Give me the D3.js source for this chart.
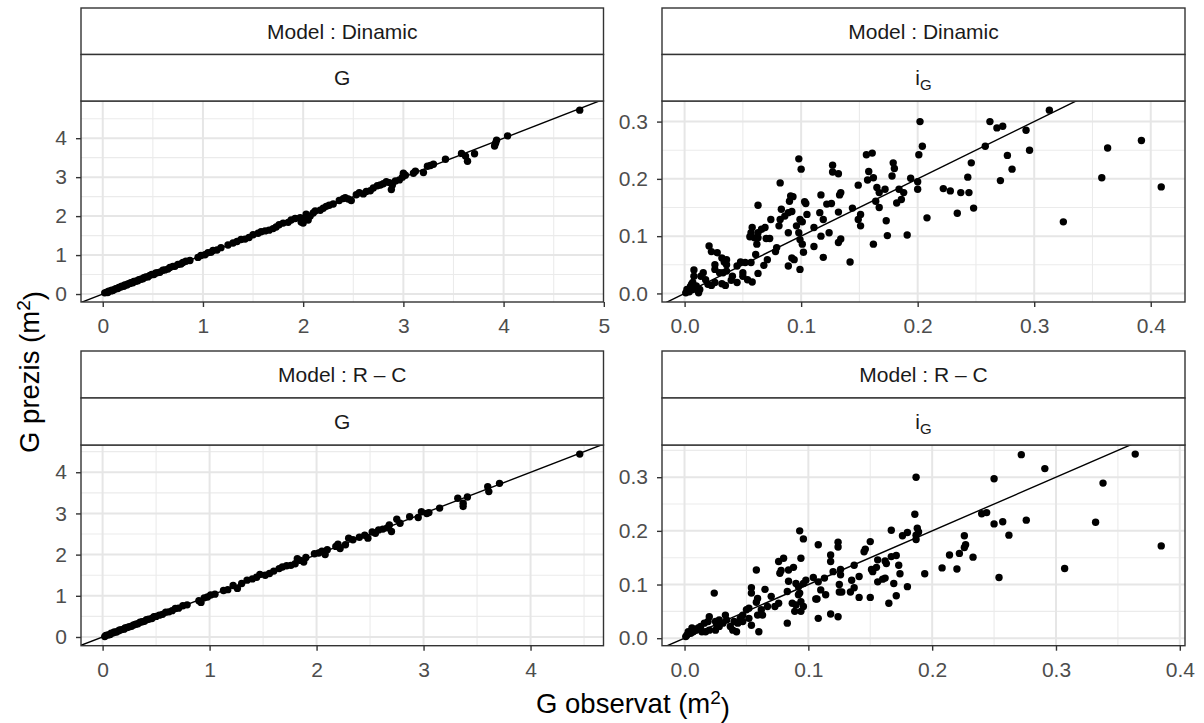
<!DOCTYPE html>
<html><head><meta charset="utf-8">
<script src="https://cdn.jsdelivr.net/npm/d3@7"></script>
<style>body{margin:0;background:#fff}</style>
</head><body><svg id="c" width="1204" height="723"></svg>
<script>
// ---------- data: [observed, predicted] ----------
const dinamicG = [[0.02,0.03],[0.04,0.05],[0.05,0.04],[0.06,0.07],[0.08,0.08],[0.09,0.10],[0.10,0.09],[0.12,0.12],[0.13,0.14],[0.15,0.14],[0.16,0.17],[0.18,0.18],[0.19,0.20],[0.21,0.20],[0.22,0.23],[0.24,0.23],[0.25,0.26],[0.27,0.27],[0.28,0.29],[0.30,0.29],[0.31,0.32],[0.33,0.33],[0.35,0.34],[0.36,0.37],[0.38,0.38],[0.40,0.39],[0.41,0.42],[0.43,0.44],[0.45,0.44],[0.47,0.48],[0.49,0.50],[0.51,0.50],[0.53,0.54],[0.55,0.55],[0.57,0.56],[0.60,0.61],[0.62,0.62],[0.65,0.64],[0.67,0.68],[0.70,0.71],[0.72,0.71],[0.75,0.76],[0.78,0.77],[0.80,0.81],[0.83,0.84],[0.87,0.86],[0.95,0.94],[0.98,0.99],[1.02,1.01],[1.05,1.06],[1.08,1.07],[1.10,1.12],[1.14,1.13],[1.18,1.19],[1.25,1.26],[1.30,1.31],[1.34,1.35],[1.38,1.40],[1.42,1.41],[1.46,1.45],[1.50,1.52],[1.55,1.56],[1.58,1.60],[1.62,1.62],[1.66,1.64],[1.70,1.68],[1.73,1.72],[1.76,1.78],[1.80,1.82],[1.85,1.84],[1.88,1.90],[1.92,1.94],[1.97,1.96],[1.98,1.85],[2.00,1.82],[2.02,1.95],[2.03,2.05],[2.05,1.90],[2.07,2.00],[2.10,2.08],[2.12,2.13],[2.17,2.15],[2.20,2.20],[2.23,2.25],[2.26,2.28],[2.30,2.31],[2.36,2.40],[2.40,2.45],[2.42,2.47],[2.45,2.44],[2.48,2.40],[2.53,2.55],[2.56,2.60],[2.60,2.57],[2.63,2.63],[2.67,2.65],[2.70,2.72],[2.74,2.78],[2.77,2.80],[2.80,2.83],[2.83,2.88],[2.86,2.86],[2.88,2.68],[2.89,2.80],[2.92,2.90],[2.96,2.93],[2.99,3.00],[3.00,3.10],[3.02,3.05],[3.10,3.10],[3.12,3.15],[3.20,3.12],[3.24,3.28],[3.27,3.30],[3.30,3.33],[3.42,3.46],[3.58,3.61],[3.62,3.54],[3.64,3.41],[3.71,3.60],[3.91,3.80],[3.92,3.87],[3.93,3.95],[4.04,4.06],[4.76,4.72]];

const dinamicIG = [[0.313,0.320],[0.202,0.300],[0.262,0.300],[0.268,0.289],[0.273,0.292],[0.293,0.285],[0.296,0.250],[0.258,0.257],[0.204,0.257],[0.201,0.242],[0.277,0.241],[0.281,0.217],[0.271,0.197],[0.246,0.228],[0.243,0.203],[0.237,0.176],[0.244,0.176],[0.222,0.183],[0.228,0.179],[0.234,0.140],[0.248,0.149],[0.208,0.132],[0.200,0.182],[0.200,0.195],[0.194,0.201],[0.325,0.125],[0.358,0.202],[0.363,0.254],[0.392,0.267],[0.409,0.186],[0.191,0.102],[0.188,0.176],[0.184,0.182],[0.186,0.164],[0.182,0.158],[0.179,0.228],[0.180,0.218],[0.178,0.205],[0.172,0.182],[0.165,0.185],[0.167,0.176],[0.161,0.245],[0.156,0.242],[0.158,0.213],[0.162,0.202],[0.157,0.198],[0.149,0.189],[0.164,0.161],[0.167,0.150],[0.173,0.127],[0.174,0.101],[0.162,0.086],[0.151,0.118],[0.149,0.129],[0.151,0.138],[0.144,0.149],[0.142,0.055],[0.134,0.095],[0.132,0.089],[0.132,0.142],[0.134,0.176],[0.133,0.172],[0.127,0.224],[0.127,0.212],[0.132,0.209],[0.126,0.157],[0.122,0.156],[0.117,0.172],[0.116,0.141],[0.124,0.106],[0.117,0.100],[0.119,0.129],[0.111,0.115],[0.111,0.082],[0.119,0.063],[0.098,0.235],[0.100,0.217],[0.103,0.160],[0.104,0.157],[0.105,0.138],[0.099,0.129],[0.101,0.125],[0.096,0.118],[0.098,0.106],[0.099,0.094],[0.101,0.086],[0.102,0.072],[0.099,0.042],[0.091,0.170],[0.093,0.169],[0.090,0.161],[0.089,0.141],[0.092,0.143],[0.086,0.135],[0.083,0.147],[0.082,0.129],[0.081,0.118],[0.082,0.193],[0.089,0.106],[0.092,0.062],[0.094,0.059],[0.089,0.048],[0.079,0.080],[0.078,0.073],[0.074,0.129],[0.073,0.096],[0.070,0.096],[0.069,0.115],[0.066,0.112],[0.063,0.106],[0.063,0.097],[0.060,0.097],[0.057,0.106],[0.056,0.099],[0.063,0.154],[0.058,0.115],[0.062,0.086],[0.061,0.068],[0.071,0.059],[0.068,0.049],[0.063,0.035],[0.058,0.020],[0.057,0.054],[0.052,0.054],[0.048,0.055],[0.050,0.036],[0.050,0.030],[0.045,0.048],[0.045,0.019],[0.036,0.059],[0.034,0.055],[0.036,0.050],[0.032,0.062],[0.028,0.071],[0.023,0.073],[0.021,0.083],[0.026,0.050],[0.026,0.042],[0.030,0.036],[0.033,0.036],[0.036,0.039],[0.035,0.014],[0.032,0.017],[0.026,0.019],[0.023,0.014],[0.020,0.016],[0.018,0.024],[0.014,0.030],[0.016,0.036],[0.008,0.041],[0.008,0.030],[0.010,0.013],[0.013,0.007],[0.012,0.001],[0.007,0.007],[0.004,0.003],[0.001,0.001],[0.002,0.007],[0.005,0.012],[0.007,0.019],[0.006,0.016],[0.040,0.023],[0.041,0.030],[0.054,0.024]];

const rcG = [[0.02,0.01],[0.03,0.04],[0.05,0.05],[0.07,0.06],[0.08,0.09],[0.10,0.10],[0.11,0.12],[0.13,0.12],[0.15,0.15],[0.16,0.17],[0.18,0.18],[0.20,0.19],[0.21,0.22],[0.23,0.23],[0.25,0.25],[0.27,0.26],[0.29,0.29],[0.31,0.31],[0.33,0.32],[0.35,0.36],[0.37,0.37],[0.39,0.38],[0.41,0.42],[0.43,0.43],[0.46,0.45],[0.48,0.49],[0.50,0.50],[0.53,0.53],[0.56,0.55],[0.59,0.60],[0.62,0.61],[0.65,0.64],[0.68,0.69],[0.71,0.70],[0.75,0.76],[0.79,0.78],[0.90,0.88],[0.92,0.84],[0.95,0.95],[0.98,0.97],[1.01,1.02],[1.05,1.04],[1.13,1.13],[1.17,1.15],[1.22,1.25],[1.26,1.18],[1.30,1.30],[1.35,1.38],[1.40,1.41],[1.44,1.45],[1.47,1.52],[1.52,1.50],[1.56,1.54],[1.60,1.60],[1.65,1.66],[1.68,1.70],[1.72,1.73],[1.76,1.74],[1.80,1.78],[1.82,1.90],[1.85,1.86],[1.88,1.82],[1.90,1.93],[1.98,2.02],[2.02,2.04],[2.05,2.08],[2.08,2.00],[2.10,2.12],[2.18,2.20],[2.20,2.25],[2.22,2.15],[2.27,2.24],[2.30,2.40],[2.34,2.36],[2.40,2.42],[2.45,2.47],[2.48,2.40],[2.52,2.55],[2.55,2.52],[2.58,2.60],[2.62,2.62],[2.66,2.65],[2.68,2.72],[2.70,2.56],[2.75,2.86],[2.78,2.76],[2.87,2.92],[2.95,2.90],[2.98,3.04],[3.03,3.00],[3.05,3.02],[3.15,3.13],[3.32,3.37],[3.37,3.25],[3.37,3.17],[3.41,3.40],[3.60,3.65],[3.61,3.53],[3.71,3.73],[4.46,4.44]];

const rcIG = [[0.272,0.342],[0.364,0.343],[0.187,0.300],[0.250,0.297],[0.291,0.316],[0.338,0.289],[0.332,0.216],[0.385,0.172],[0.307,0.130],[0.254,0.113],[0.276,0.220],[0.257,0.217],[0.250,0.213],[0.262,0.192],[0.240,0.232],[0.244,0.234],[0.226,0.191],[0.227,0.174],[0.226,0.169],[0.233,0.151],[0.222,0.158],[0.214,0.155],[0.220,0.129],[0.208,0.131],[0.194,0.120],[0.186,0.231],[0.188,0.205],[0.189,0.198],[0.187,0.192],[0.187,0.184],[0.180,0.197],[0.176,0.191],[0.167,0.201],[0.171,0.154],[0.167,0.152],[0.163,0.139],[0.162,0.144],[0.173,0.136],[0.174,0.120],[0.169,0.102],[0.171,0.079],[0.165,0.065],[0.180,0.096],[0.156,0.146],[0.155,0.132],[0.151,0.128],[0.152,0.124],[0.156,0.105],[0.160,0.110],[0.162,0.112],[0.150,0.180],[0.146,0.166],[0.145,0.161],[0.150,0.076],[0.141,0.076],[0.137,0.094],[0.135,0.108],[0.141,0.115],[0.137,0.136],[0.134,0.086],[0.125,0.086],[0.127,0.086],[0.125,0.100],[0.126,0.118],[0.126,0.128],[0.120,0.124],[0.124,0.179],[0.124,0.170],[0.118,0.155],[0.118,0.143],[0.118,0.045],[0.124,0.040],[0.113,0.112],[0.108,0.174],[0.108,0.105],[0.110,0.090],[0.114,0.081],[0.107,0.073],[0.106,0.073],[0.108,0.037],[0.104,0.113],[0.096,0.185],[0.093,0.200],[0.094,0.149],[0.098,0.108],[0.096,0.102],[0.092,0.096],[0.090,0.102],[0.093,0.084],[0.092,0.081],[0.094,0.068],[0.096,0.059],[0.094,0.050],[0.089,0.050],[0.090,0.062],[0.087,0.065],[0.084,0.106],[0.083,0.087],[0.088,0.132],[0.084,0.127],[0.078,0.126],[0.077,0.121],[0.080,0.149],[0.076,0.143],[0.083,0.028],[0.076,0.065],[0.073,0.059],[0.070,0.078],[0.065,0.091],[0.067,0.059],[0.062,0.053],[0.063,0.043],[0.059,0.043],[0.058,0.127],[0.059,0.074],[0.058,0.067],[0.054,0.084],[0.054,0.094],[0.052,0.056],[0.050,0.053],[0.047,0.043],[0.060,0.012],[0.054,0.024],[0.052,0.037],[0.047,0.031],[0.043,0.028],[0.040,0.031],[0.024,0.084],[0.033,0.043],[0.034,0.034],[0.031,0.028],[0.028,0.022],[0.025,0.015],[0.020,0.040],[0.019,0.031],[0.016,0.028],[0.013,0.022],[0.025,0.031],[0.028,0.034],[0.026,0.025],[0.037,0.022],[0.042,0.012],[0.039,0.015],[0.009,0.015],[0.007,0.012],[0.005,0.009],[0.002,0.006],[0.001,0.003],[0.003,0.012],[0.006,0.019],[0.011,0.019],[0.014,0.012],[0.017,0.012],[0.020,0.015],[0.045,0.037]];

const modelLabels = ["Model : Dinamic", "Model : R \u2013 C"];
const variableLabels = ["G", "iG"];
const ticksG5 = [0, 1, 2, 3, 4, 5];
const ticksG4 = [0, 1, 2, 3, 4];
const ticksI4 = [0, 0.1, 0.2, 0.3, 0.4];
const ticksI3 = [0, 0.1, 0.2, 0.3];
const xTitle = "G observat (m";
const yTitle = "G prezis (m";

// ---------- layout ----------
const FONT = "'Liberation Sans', Arial, sans-serif";
const cols = [{x0: 81, x1: 603.5}, {x0: 662, x1: 1185}];
const rows = [{top: 8, strip: 46.5, py0: 101, py1: 302}, {top: 351, strip: 47, py0: 445, py1: 645.7}];

const panels = [
  {r: 0, c: 0, data: dinamicG, model: 0, v: 0, xt: ticksG5, yt: ticksG4, fmt: d3.format("d")},
  {r: 0, c: 1, data: dinamicIG, model: 0, v: 1, xt: ticksI4, yt: ticksI3, fmt: d3.format(".1f")},
  {r: 1, c: 0, data: rcG, model: 1, v: 0, xt: ticksG4, yt: ticksG4, fmt: d3.format("d")},
  {r: 1, c: 1, data: rcIG, model: 1, v: 1, xt: ticksI4, yt: ticksI3, fmt: d3.format(".1f")}
];

const svg = d3.select("#c").style("font-family", FONT);
svg.append("rect").attr("width", 1204).attr("height", 723).attr("fill", "#fff");

function expand(ext) { const r = ext[1] - ext[0]; return [ext[0] - 0.05 * r, ext[1] + 0.05 * r]; }
function minorOf(t, dom) {
  const s = t[1] - t[0], out = [];
  for (let v = t[0] - s; v <= t[t.length - 1] + s; v += s) {
    const m = v + s / 2;
    if (m >= dom[0] && m <= dom[1]) out.push(m);
  }
  return out;
}

panels.forEach((p, i) => {
  const col = cols[p.c], row = rows[p.r];
  const xd = expand(d3.extent(p.data, d => d[0]));
  const yd = expand(d3.extent(p.data, d => d[1]));
  const x = d3.scaleLinear().domain(xd).range([col.x0, col.x1]);
  const y = d3.scaleLinear().domain(yd).range([row.py1, row.py0]);
  const g = svg.append("g");

  g.append("rect").attr("x", col.x0).attr("y", row.py0).attr("width", col.x1 - col.x0).attr("height", row.py1 - row.py0).attr("fill", "#fff");

  // minor grid
  const xm = minorOf(p.xt, xd), ym = minorOf(p.yt, yd);
  g.selectAll(null).data(xm).enter().append("line")
    .attr("x1", d => x(d)).attr("x2", d => x(d)).attr("y1", row.py0).attr("y2", row.py1)
    .attr("stroke", "#EBEBEB").attr("stroke-width", 1.1);
  g.selectAll(null).data(ym).enter().append("line")
    .attr("y1", d => y(d)).attr("y2", d => y(d)).attr("x1", col.x0).attr("x2", col.x1)
    .attr("stroke", "#EBEBEB").attr("stroke-width", 1.1);
  // major grid
  g.selectAll(null).data(p.xt.filter(t => t >= xd[0] && t <= xd[1])).enter().append("line")
    .attr("x1", d => x(d)).attr("x2", d => x(d)).attr("y1", row.py0).attr("y2", row.py1)
    .attr("stroke", "#E6E6E6").attr("stroke-width", 2);
  g.selectAll(null).data(p.yt.filter(t => t >= yd[0] && t <= yd[1])).enter().append("line")
    .attr("y1", d => y(d)).attr("y2", d => y(d)).attr("x1", col.x0).attr("x2", col.x1)
    .attr("stroke", "#E6E6E6").attr("stroke-width", 2);

  const cid = "clip" + i;
  svg.append("clipPath").attr("id", cid).append("rect")
    .attr("x", col.x0).attr("y", row.py0).attr("width", col.x1 - col.x0).attr("height", row.py1 - row.py0);
  const inner = g.append("g").attr("clip-path", `url(#${cid})`);

  inner.selectAll("circle").data(p.data).enter().append("circle")
    .attr("cx", d => x(d[0])).attr("cy", d => y(d[1])).attr("r", 3.7).attr("fill", "#000");

  // y = x reference line
  const lo = Math.min(xd[0], yd[0]), hi = Math.max(xd[1], yd[1]);
  inner.append("line").attr("x1", x(lo)).attr("y1", y(lo)).attr("x2", x(hi)).attr("y2", y(hi))
    .attr("stroke", "#000").attr("stroke-width", 1.4);

  g.append("rect").attr("x", col.x0).attr("y", row.py0).attr("width", col.x1 - col.x0).attr("height", row.py1 - row.py0)
    .attr("fill", "none").attr("stroke", "#333").attr("stroke-width", 1.4);

  // axes
  const xa = g.append("g").attr("transform", `translate(0,${row.py1})`)
    .call(d3.axisBottom(x).tickValues(p.xt).tickFormat(p.fmt).tickSize(5).tickPadding(11));
  const ya = g.append("g").attr("transform", `translate(${col.x0},0)`)
    .call(d3.axisLeft(y).tickValues(p.yt).tickFormat(p.fmt).tickSize(5).tickPadding(9));
  [xa, ya].forEach(a => {
    a.select(".domain").remove();
    a.selectAll(".tick line").attr("stroke", "#333").attr("stroke-width", 1.4);
    a.selectAll(".tick text").attr("fill", "#4D4D4D").style("font-size", "21px").style("font-family", FONT);
  });

  // strips
  const sw = col.x1 - col.x0;
  [0, 1].forEach(k => {
    const sy = row.top + k * row.strip;
    g.append("rect").attr("x", col.x0).attr("y", sy).attr("width", sw).attr("height", row.strip)
      .attr("fill", "#fff").attr("stroke", "#333").attr("stroke-width", 1.4);
    const t = g.append("text").attr("x", col.x0 + sw / 2).attr("y", sy + row.strip / 2).attr("dy", "0.36em")
      .attr("text-anchor", "middle").attr("fill", "#1A1A1A").style("font-size", "21px");
    if (k === 0) {
      t.text(modelLabels[p.model]);
    } else {
      const lab = variableLabels[p.v];
      t.append("tspan").text(lab[0]);
      if (lab.length > 1) t.append("tspan").attr("dy", "0.3em").style("font-size", "15px").text(lab.slice(1));
    }
  });
});

// axis titles
const xt = svg.append("text").attr("x", 633).attr("y", 713).attr("text-anchor", "middle")
  .style("font-size", "27.5px").attr("fill", "#000");
xt.append("tspan").text(xTitle);
xt.append("tspan").attr("dy", "-0.45em").style("font-size", "19px").text("2");
xt.append("tspan").attr("dy", "0.45em").text(")");

const yt = svg.append("text").attr("transform", "translate(39,372) rotate(-90)").attr("text-anchor", "middle")
  .style("font-size", "27.5px").attr("fill", "#000");
yt.append("tspan").text(yTitle);
yt.append("tspan").attr("dy", "-0.45em").style("font-size", "19px").text("2");
yt.append("tspan").attr("dy", "0.45em").text(")");
</script></body></html>
